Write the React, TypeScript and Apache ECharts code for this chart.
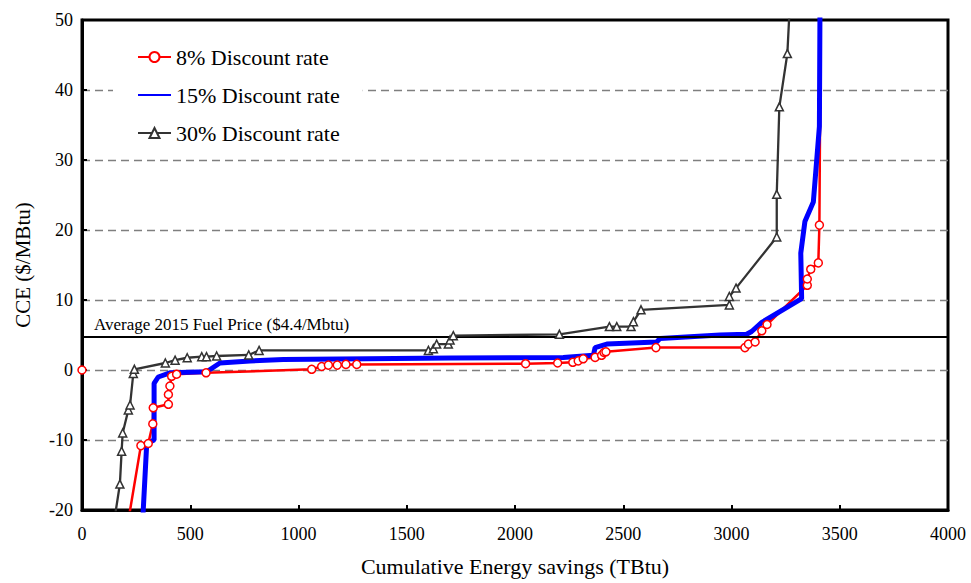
import React, { useEffect, useRef } from "react";
import * as echarts from "echarts";

const SERIES_NAMES = ["8% Discount rate", "15% Discount rate", "30% Discount rate"];
const X_AXIS_TITLE = "Cumulative Energy savings (TBtu)";
const Y_AXIS_TITLE = "CCE ($/MBtu)";
const FUEL_PRICE_LABEL = "Average 2015 Fuel Price ($4.4/Mbtu)";
const FUEL_PRICE_LEVEL = 4.7;

// 8% discount rate (x: TBtu, y: $/MBtu); "-" breaks the line
const rate8Points: Array<[number, number | string]> = [
  [0, 0], [100, "-"], [168, -30], [272, -10.8], [306, -10.5], [327, -7.7], [329, -5.4],
  [399, -4.9], [399, -3.5], [406, -2.3], [414, -0.9], [437, -0.6], [573, -0.4],
  [1061, 0.1], [1107, 0.5], [1138, 0.7], [1179, 0.7], [1219, 0.8], [1269, 0.8],
  [2049, 0.9], [2197, 1.0], [2267, 1.1], [2292, 1.3], [2315, 1.6], [2370, 1.8],
  [2400, 2.1], [2411, 2.5], [2420, 2.6], [2651, 3.2], [3062, 3.2], [3078, 3.7],
  [3109, 4.0], [3140, 5.6], [3164, 6.5], [3350, 12.1], [3350, 13.0], [3366, 14.4],
  [3401, 15.3], [3406, 20.7], [3414, 60],
];

// 15% discount rate
const rate15Points: Array<[number, number]> = [
  [266, -30], [299, -10.5], [333, -10.0], [333, -1.9], [352, -1.0], [406, -0.4],
  [576, -0.25], [637, 1.0], [776, 1.3], [930, 1.5], [1700, 1.7], [2223, 1.8],
  [2362, 2.1], [2370, 3.2], [2424, 3.7], [2654, 4.0], [2670, 4.5], [2947, 5.0],
  [3070, 5.1], [3093, 5.5], [3140, 6.8], [3324, 10.2], [3320, 16.7], [3339, 21.2],
  [3378, 24.0], [3406, 34.8], [3410, 60],
];

// 30% discount rate
const rate30Points: Array<[number, number]> = [
  [107, -30], [175, -16.3], [183, -11.6], [188, -9.0], [214, -5.7], [222, -5.0],
  [237, -0.5], [242, 0.1], [385, 1.0], [430, 1.4], [486, 1.75], [553, 1.9],
  [575, 1.9], [622, 2.0], [770, 2.15], [818, 2.8], [1600, 2.8], [1623, 3.05],
  [1638, 3.7], [1692, 3.7], [1700, 4.3], [1715, 4.9], [2205, 5.1], [2436, 6.2],
  [2470, 6.2], [2536, 6.2], [2547, 6.9], [2582, 8.6], [2990, 9.3], [2990, 10.5],
  [3021, 11.7], [3209, 19.0], [3209, 25.1], [3221, 37.6], [3258, 45.2], [3282, 60],
];

const FONT = "'Liberation Serif', 'Times New Roman', serif";
const RED = "#ff0000";
const BLUE = "#0000ff";
const DARK = "#333333";

export default function App() {
  const ref = useRef<HTMLDivElement>(null);

  useEffect(() => {
    document.body.style.margin = "0";
    if (!ref.current) return;
    const chart = echarts.init(ref.current, undefined, { renderer: "svg" });

    const option: any = {
      animation: false,
      backgroundColor: "#fff",
      textStyle: { fontFamily: FONT, color: "#000" },
      grid: {
        left: 82,
        top: 20,
        width: 866,
        height: 490,
        show: true,
        borderColor: "#000",
        borderWidth: 3,
        backgroundColor: "transparent",
        containLabel: false,
      },
      legend: {
        orient: "vertical",
        left: 113,
        top: 34,
        padding: [12, 23, 12, 24],
        itemGap: 16,
        itemWidth: 33,
        itemHeight: 12.5,
        backgroundColor: "#fff",
        selectedMode: false,
        textStyle: { fontFamily: FONT, fontSize: 22, color: "#000" },
        data: [
          { name: SERIES_NAMES[0] },
          { name: SERIES_NAMES[1], itemStyle: { opacity: 0 } },
          { name: SERIES_NAMES[2] },
        ],
      },
      xAxis: {
        type: "value",
        min: 0,
        max: 4000,
        interval: 500,
        name: X_AXIS_TITLE,
        nameLocation: "middle",
        nameGap: 45,
        nameTextStyle: { fontFamily: FONT, fontSize: 22, color: "#000" },
        axisLine: { show: true, onZero: false, lineStyle: { color: "#000", width: 3 } },
        axisTick: { show: true, inside: true, length: 5, lineStyle: { color: "#000", width: 2 } },
        axisLabel: {
          fontFamily: FONT,
          fontSize: 18,
          color: "#000",
          margin: 15,
          formatter: (v: number) => String(v),
        },
        splitLine: { show: false },
      },
      yAxis: {
        type: "value",
        min: -20,
        max: 50,
        interval: 10,
        name: Y_AXIS_TITLE,
        nameLocation: "middle",
        nameGap: 49,
        nameTextStyle: { fontFamily: FONT, fontSize: 21, color: "#000" },
        axisLine: { show: true, onZero: false, lineStyle: { color: "#000", width: 3 } },
        axisTick: { show: true, inside: true, length: 5, lineStyle: { color: "#000", width: 2 } },
        axisLabel: {
          fontFamily: FONT,
          fontSize: 18,
          color: "#000",
          margin: 9,
          formatter: (v: number) => String(v),
        },
        splitLine: {
          show: true,
          showMinLine: false,
          showMaxLine: false,
          lineStyle: { color: "#7f7f7f", width: 1.3, type: [8, 5] },
        },
      },
      series: [
        {
          name: SERIES_NAMES[0],
          type: "line",
          data: rate8Points,
          z: 2,
          symbol: "circle",
          showSymbol: false,
          symbolSize: 8,
          connectNulls: false,
          lineStyle: { color: RED, width: 2.5 },
          itemStyle: { color: "#fff", borderColor: RED, borderWidth: 1.5 },
        },
        {
          name: SERIES_NAMES[1],
          type: "line",
          data: rate15Points,
          z: 3,
          symbol: "none",
          lineStyle: { color: BLUE, width: 5 },
          itemStyle: { color: BLUE },
        },
        {
          name: SERIES_NAMES[0],
          type: "line",
          data: rate8Points,
          z: 4,
          symbol: "circle",
          showSymbol: true,
          symbolSize: 8,
          connectNulls: false,
          lineStyle: { color: RED, width: 0, opacity: 0 },
          itemStyle: { color: "#fff", borderColor: RED, borderWidth: 1.5 },
        },
        {
          name: SERIES_NAMES[2],
          type: "line",
          data: rate30Points,
          z: 5,
          symbol: "triangle",
          showSymbol: true,
          symbolSize: 8,
          lineStyle: { color: DARK, width: 2.3 },
          itemStyle: { color: "#fff", borderColor: DARK, borderWidth: 1.5 },
          markLine: {
            silent: true,
            symbol: ["none", "none"],
            lineStyle: { color: "#000", width: 2, type: "solid" },
            label: {
              show: true,
              position: "insideStartTop",
              formatter: FUEL_PRICE_LABEL,
              fontFamily: FONT,
              fontSize: 17,
              color: "#000",
              distance: [12, 4],
            },
            emphasis: { disabled: true },
            data: [{ yAxis: FUEL_PRICE_LEVEL }],
          },
        },
      ],
    };

    chart.setOption(option);
    return () => chart.dispose();
  }, []);

  return <div ref={ref} style={{ width: 971, height: 583 }} />;
}
